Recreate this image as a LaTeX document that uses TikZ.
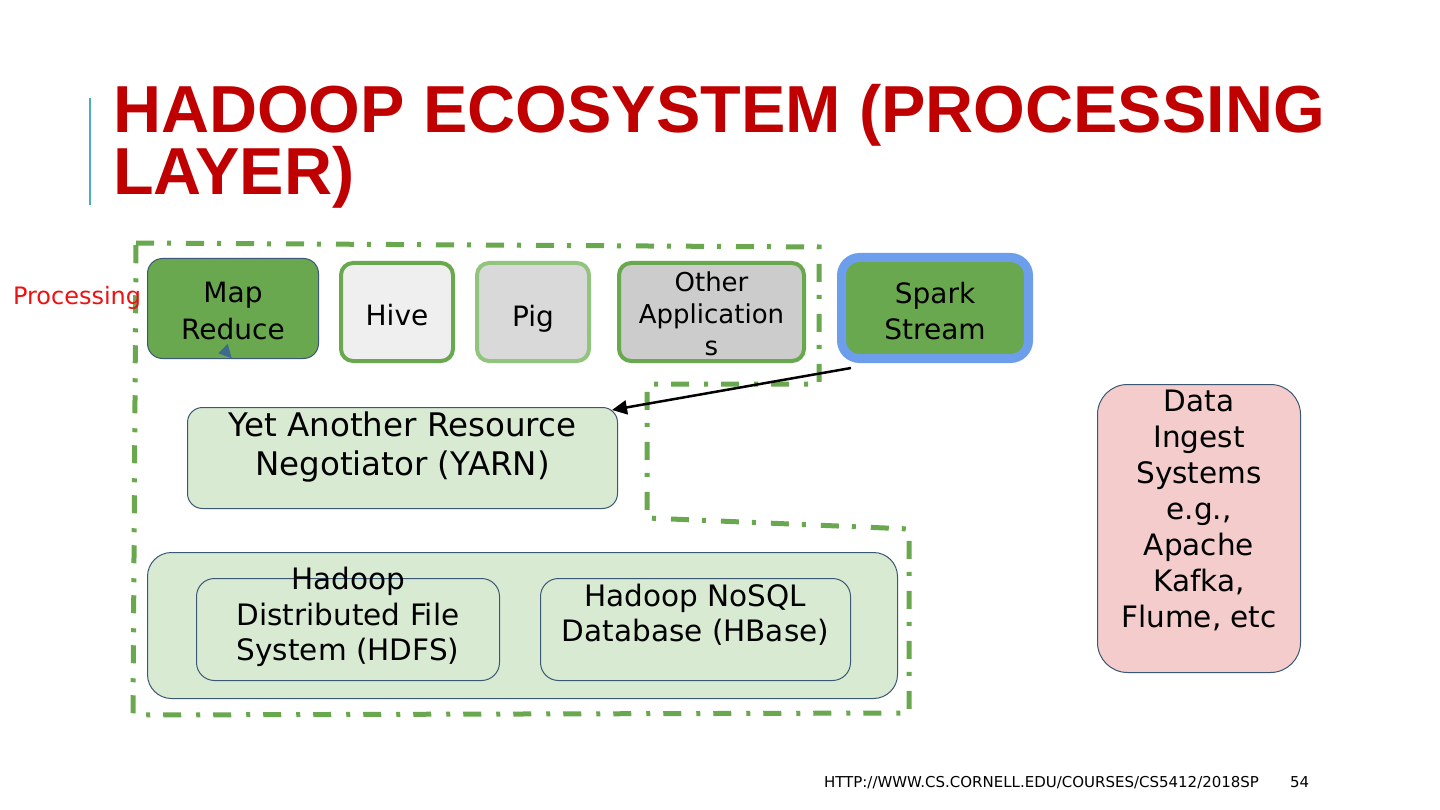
\documentclass[tikz,border=0pt]{standalone}
\usepackage{fontspec}
\setmainfont{DejaVu Sans}
\newfontfamily\titlefont{Liberation Sans}
\usetikzlibrary{arrows.meta,calc}
\definecolor{titlered}{HTML}{C00000}
\definecolor{barblue}{HTML}{4BACC6}
\definecolor{gdark}{HTML}{6AA84F}
\definecolor{glight}{HTML}{93C47D}
\definecolor{hivefill}{HTML}{EFEFEF}
\definecolor{pigfill}{HTML}{D9D9D9}
\definecolor{otherfill}{HTML}{CCCCCC}
\definecolor{sparkblue}{HTML}{6D9EEB}
\definecolor{palegreen}{HTML}{D9EAD3}
\definecolor{palered}{HTML}{F4CCCC}
\definecolor{edge}{HTML}{3A5873}
\definecolor{procred}{HTML}{EE1111}
\definecolor{tridark}{HTML}{3D6A8E}
\begin{document}
\begin{tikzpicture}[x=1pt,y=-1pt,
  every node/.style={inner sep=0pt, outer sep=0pt},
  thinbox/.style={draw=edge, line width=1pt, rounded corners=#1},
  appbox/.style={line width=4pt, rounded corners=12pt},
  lbl/.style={align=center, text=black},
  procline/.style={draw=gdark, line width=5pt, dash pattern=on 18pt off 13pt on 4pt off 15pt},
  arr/.style={draw=black, line width=2.5pt, -{Triangle[length=15pt,width=14pt]}}
]
\useasboundingbox (0,0) rectangle (1440,810);

% title
\draw[barblue, line width=2pt] (90,98) -- (90,205);
\node[anchor=base west, align=left, text=titlered, font=\titlefont\bfseries\fontsize{66.5}{58}\selectfont] (title) at (113,195) {HADOOP ECOSYSTEM (PROCESSING\\LAYER)};

% processing boundary
\draw[procline] (136,243) -- (819,247) -- (819,384) -- (647,384) -- (647,518) -- (909,529) -- (909,713) -- (133,715) -- cycle;

\node[anchor=base west, text=procred, font=\fontsize{24}{28}\selectfont] (proc) at (13,305) {Processing};

% application row
\node[thinbox=15pt, fill=gdark, minimum width=171pt, minimum height=100pt] (mr) at (233,308.5) {};
\node[lbl, font=\fontsize{28}{37}\selectfont] (mrT) at (233,311.3) {Map\\Reduce};
\fill[tridark] (227.7,344) -- (218.3,353.3) -- (231.7,358.3) -- cycle;

\node[appbox, draw=gdark, fill=hivefill, minimum width=112pt, minimum height=98pt] (hive) at (397,312) {};
\node[lbl, font=\fontsize{28}{37}\selectfont] (hiveT) at (397,315.3) {Hive};

\node[appbox, draw=glight, fill=pigfill, minimum width=112pt, minimum height=98pt] (pig) at (533,312) {};
\node[lbl, font=\fontsize{28}{37}\selectfont] (pigT) at (533,318.6) {Pig};

\node[appbox, draw=gdark, fill=otherfill, minimum width=185pt, minimum height=98pt] (other) at (711.5,312) {};
\node[lbl, font=\fontsize{26}{32}\selectfont] (otherT) at (711.5,314.1) {Other\\Application\\s};

\node[draw=sparkblue, line width=9pt, rounded corners=18pt, fill=gdark, minimum width=187pt, minimum height=101pt] (spark) at (935,308) {};
\node[lbl, font=\fontsize{28}{36}\selectfont] (sparkT) at (935,311.4) {Spark\\Stream};

% YARN
\node[thinbox=15pt, fill=palegreen, minimum width=430pt, minimum height=101pt] (yarn) at (402.5,458) {};
\node[lbl, font=\fontsize{32.5}{39}\selectfont] (yarnT) at (402.5,447.5) {Yet Another Resource\\Negotiator (YARN)};

% storage layer
\node[thinbox=24pt, fill=palegreen, minimum width=750pt, minimum height=146pt] (storage) at (522.5,625.5) {};
\node[thinbox=18pt, minimum width=303pt, minimum height=102pt] (hdfs) at (348,629.5) {};
\node[lbl, font=\fontsize{29.5}{35.5}\selectfont] (hdfsT) at (348,617.3) {Hadoop\\Distributed File\\System (HDFS)};
\node[thinbox=18pt, minimum width=310pt, minimum height=102pt] (hbase) at (695.5,629.5) {};
\node[lbl, font=\fontsize{29.5}{35}\selectfont] (hbaseT) at (695.5,615) {Hadoop NoSQL\\Database (HBase)};

% data ingest
\node[thinbox=30pt, fill=palered, minimum width=203pt, minimum height=288pt] (ingest) at (1199,528.5) {};
\node[lbl, font=\fontsize{29.5}{36}\selectfont] (ingestT) at (1199,510.5) {Data\\Ingest\\Systems\\e.g.,\\Apache\\Kafka,\\Flume, etc};

% arrow
\draw[arr] ([xshift=9.5pt,yshift=-9.5pt]spark.south west) -- ([xshift=-5.5pt,yshift=-2.5pt]yarn.north east);

% footer
\node[anchor=base west, font=\fontsize{15}{18}\selectfont] (url) at (824,787) {HTTP://WWW.CS.CORNELL.EDU/COURSES/CS5412/2018SP};
\node[anchor=base west, font=\fontsize{15}{18}\selectfont] (page) at (1290,787) {54};
\end{tikzpicture}
\end{document}
